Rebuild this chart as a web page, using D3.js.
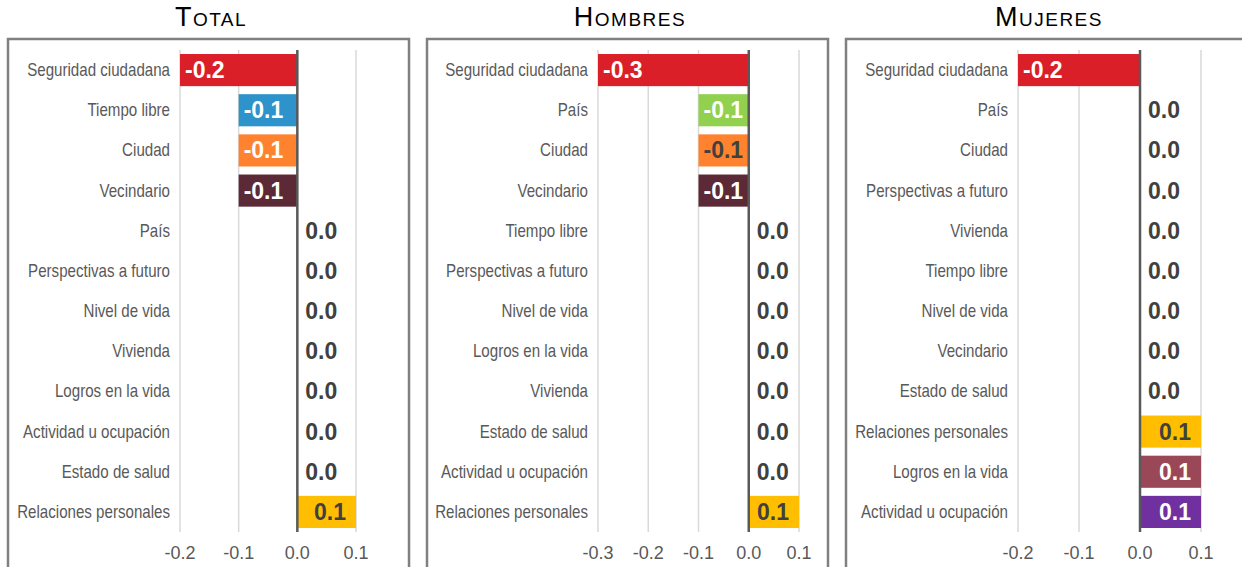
<!DOCTYPE html>
<html>
<head>
  <meta charset="utf-8">
  <title>Satisfacción por dominio</title>
  <script src="https://d3js.org/d3.v7.min.js"></script>
  <style>
    body { margin: 0; background: #fff; }
    .title { font-family: "Liberation Sans", Arial, sans-serif; font-size: 27px; font-variant: small-caps; letter-spacing: 1.5px; fill: #000; text-anchor: middle; }
    .cat { font-family: "Liberation Sans", Arial, sans-serif; font-size: 18px; fill: #595959; text-anchor: end; }
    .tick-label { font-family: "Liberation Sans", Arial, sans-serif; font-size: 18px; fill: #595959; text-anchor: middle; }
    .val { font-family: "Liberation Sans", Arial, sans-serif; font-size: 23px; font-weight: bold; }
  </style>
</head>
<body>
<svg id="chart" width="1242" height="567"></svg>
<script>
// data for each panel, top to bottom
const totalCats = ["Seguridad ciudadana", "Tiempo libre", "Ciudad", "Vecindario", "País", "Perspectivas a futuro", "Nivel de vida", "Vivienda", "Logros en la vida", "Actividad u ocupación", "Estado de salud", "Relaciones personales"];
const totalVals = [-0.2, -0.1, -0.1, -0.1, 0.0, 0.0, 0.0, 0.0, 0.0, 0.0, 0.0, 0.1];
const totalTicks = [-0.2, -0.1, 0.0, 0.1];

const hombresCats = ["Seguridad ciudadana", "País", "Ciudad", "Vecindario", "Tiempo libre", "Perspectivas a futuro", "Nivel de vida", "Logros en la vida", "Vivienda", "Estado de salud", "Actividad u ocupación", "Relaciones personales"];
const hombresVals = [-0.3, -0.1, -0.1, -0.1, 0.0, 0.0, 0.0, 0.0, 0.0, 0.0, 0.0, 0.1];
const hombresTicks = [-0.3, -0.2, -0.1, 0.0, 0.1];

const mujeresCats = ["Seguridad ciudadana", "País", "Ciudad", "Perspectivas a futuro", "Vivienda", "Tiempo libre", "Nivel de vida", "Vecindario", "Estado de salud", "Relaciones personales", "Logros en la vida", "Actividad u ocupación"];
const mujeresVals = [-0.2, 0.0, 0.0, 0.0, 0.0, 0.0, 0.0, 0.0, 0.0, 0.1, 0.1, 0.1];
const mujeresTicks = [-0.2, -0.1, 0.0, 0.1];

// colours by category
const barColor = {
  "Seguridad ciudadana": "#db1f29",
  "Tiempo libre": "#2e92cb",
  "Ciudad": "#ff832f",
  "Vecindario": "#5b2a36",
  "País": "#92d050",
  "Relaciones personales": "#ffbf00",
  "Logros en la vida": "#9a4858",
  "Actividad u ocupación": "#7030a0"
};

const panels = [
  {title: "Total", cats: totalCats, vals: totalVals, ticks: totalTicks, left: 8, plot: [180, 356], dark: ["Relaciones personales"]},
  {title: "Hombres", cats: hombresCats, vals: hombresVals, ticks: hombresTicks, left: 427, plot: [598, 799], dark: ["Relaciones personales", "Ciudad"]},
  {title: "Mujeres", cats: mujeresCats, vals: mujeresVals, ticks: mujeresTicks, left: 846, plot: [1018, 1201], dark: ["Relaciones personales"]}
];

const svg = d3.select("#chart");
const fmt = v => v.toFixed(1);
const plotTop = 50, plotBottom = 532;

panels.forEach(p => {
  const g = svg.append("g");

  // frame
  g.append("rect")
    .attr("x", p.left).attr("y", 39)
    .attr("width", 401).attr("height", 600)
    .attr("fill", "none").attr("stroke", "#808080").attr("stroke-width", 2.5);

  g.append("text").attr("class", "title")
    .attr("x", p.left + 203).attr("y", 26)
    .text(p.title);

  const x = d3.scaleLinear()
    .domain(d3.extent(p.ticks))
    .range(p.plot);

  const y = d3.scaleBand()
    .domain(p.cats)
    .range([plotTop, plotBottom])
    .paddingInner(0.2)
    .paddingOuter(0.1);

  // gridlines
  g.selectAll(".grid")
    .data(p.ticks.filter(t => t !== 0))
    .enter().append("line")
      .attr("x1", d => x(d)).attr("x2", d => x(d))
      .attr("y1", plotTop).attr("y2", plotBottom)
      .attr("stroke", "#d9d9d9").attr("stroke-width", 1.5);

  g.selectAll(".tick-label")
    .data(p.ticks)
    .enter().append("text")
      .attr("class", "tick-label")
      .attr("x", d => x(d)).attr("y", 559)
      .text(d => fmt(d));

  // bars
  const data = p.cats.map((c, i) => ({cat: c, val: p.vals[i]}));

  g.selectAll(".bar")
    .data(data.filter(d => d.val !== 0))
    .enter().append("rect")
      .attr("x", d => x(Math.min(0, d.val)))
      .attr("y", d => y(d.cat))
      .attr("width", d => Math.abs(x(d.val) - x(0)))
      .attr("height", y.bandwidth())
      .attr("fill", d => barColor[d.cat]);

  // zero line
  g.append("line")
    .attr("x1", x(0)).attr("x2", x(0))
    .attr("y1", plotTop).attr("y2", plotBottom)
    .attr("stroke", "#595959").attr("stroke-width", 2.5);

  // category labels, squeezed to a narrow face
  g.selectAll(".cat")
    .data(data)
    .enter().append("text")
      .attr("class", "cat")
      .attr("transform", d => `translate(${p.plot[0] - 10},${y(d.cat) + y.bandwidth() / 2 + 6}) scale(0.84,1)`)
      .text(d => d.cat);

  g.selectAll(".val")
    .data(data)
    .enter().append("text")
      .attr("class", "val")
      .attr("x", d => d.val < 0 ? x(d.val) + 5 : d.val > 0 ? x(d.val) - 10 : x(0) + 8)
      .attr("y", d => y(d.cat) + y.bandwidth() / 2 + 8)
      .attr("text-anchor", d => d.val > 0 ? "end" : "start")
      .attr("fill", d => (d.val === 0 || p.dark.includes(d.cat)) ? "#404040" : "#fff")
      .text(d => fmt(d.val));
});
</script>
</body>
</html>
